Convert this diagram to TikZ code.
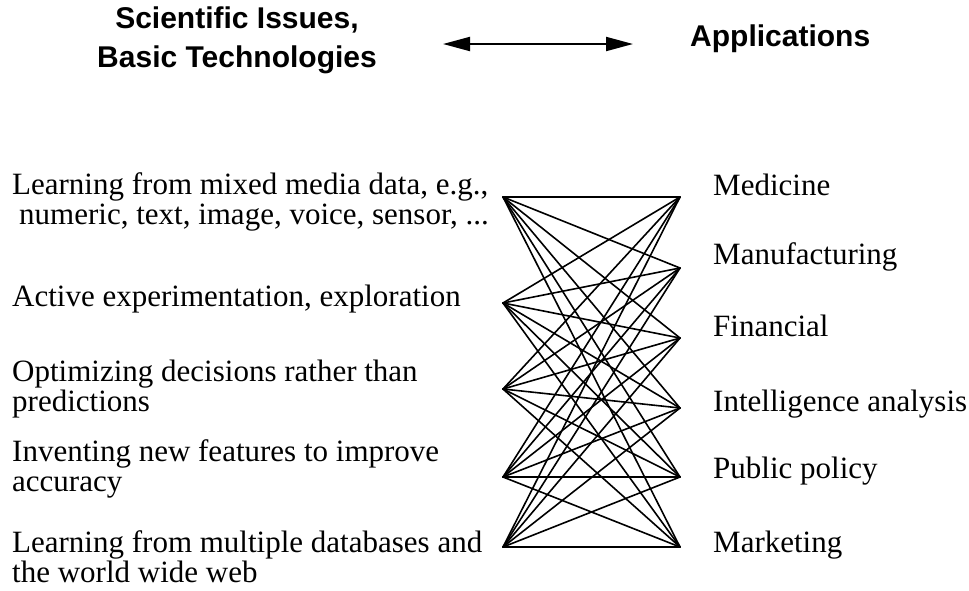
\documentclass[tikz,border=0pt]{standalone}
\usepackage{fontspec}
\setmainfont{Liberation Serif}
\setsansfont{Liberation Sans}
\usetikzlibrary{arrows.meta, positioning}

\begin{document}
\begin{tikzpicture}[x=1pt, y=-1pt,
    hd/.style={font=\sffamily\bfseries\fontsize{30}{39}\selectfont, align=center, inner sep=0pt},
    lbl/.style={font=\fontsize{31}{30}\selectfont, align=left, anchor=base west, inner sep=0pt},
    lnk/.style={black, line width=1.6pt}]
    \useasboundingbox (0,0) rectangle (969,590);
    % headings
    \node[hd, anchor=base] (sci) at (237,67) {Scientific Issues,\\Basic Technologies};
    \node[hd, anchor=base west] (app) at (690,46) {Applications};
    \coordinate (arrL) at (443,44);
    \coordinate (arrR) at (633,44);
    \draw[line width=2pt, {Triangle[length=27pt, width=14pt]}-{Triangle[length=27pt, width=14pt]}] (arrL) -- (arrR);
    % scientific issues
    \node[lbl] (s1) at (12,224) {Learning from mixed media data, e.g.,\\\hspace*{7pt}numeric, text, image, voice, sensor, ...};
    \node[lbl] (s2) at (12,306) {Active experimentation, exploration};
    \node[lbl] (s3) at (12,411) {Optimizing decisions rather than\\predictions};
    \node[lbl] (s4) at (12,491) {Inventing new features to improve\\accuracy};
    \node[lbl] (s5) at (12,582) {Learning from multiple databases and\\the world wide web};
    % applications
    \node[lbl] (a1) at (713,195) {Medicine};
    \node[lbl] (a2) at (713,264) {Manufacturing};
    \node[lbl] (a3) at (713,336) {Financial};
    \node[lbl] (a4) at (713,411) {Intelligence analysis};
    \node[lbl] (a5) at (713,478) {Public policy};
    \node[lbl] (a6) at (713,552) {Marketing};
    % connection points
    \coordinate (l1) at (503,197);
    \coordinate (l2) at (503,303);
    \coordinate (l3) at (503,389);
    \coordinate (l4) at (503,477);
    \coordinate (l5) at (503,547);
    \coordinate (r1) at (680,197);
    \coordinate (r2) at (680,268);
    \coordinate (r3) at (680,338);
    \coordinate (r4) at (680,408);
    \coordinate (r5) at (680,477);
    \coordinate (r6) at (680,547);
    \foreach \i in {1,...,5} {
        \foreach \j in {1,...,6} {
            \draw[lnk, line cap=round] (l\i) -- (r\j);
        }
    }
\end{tikzpicture}
\end{document}
